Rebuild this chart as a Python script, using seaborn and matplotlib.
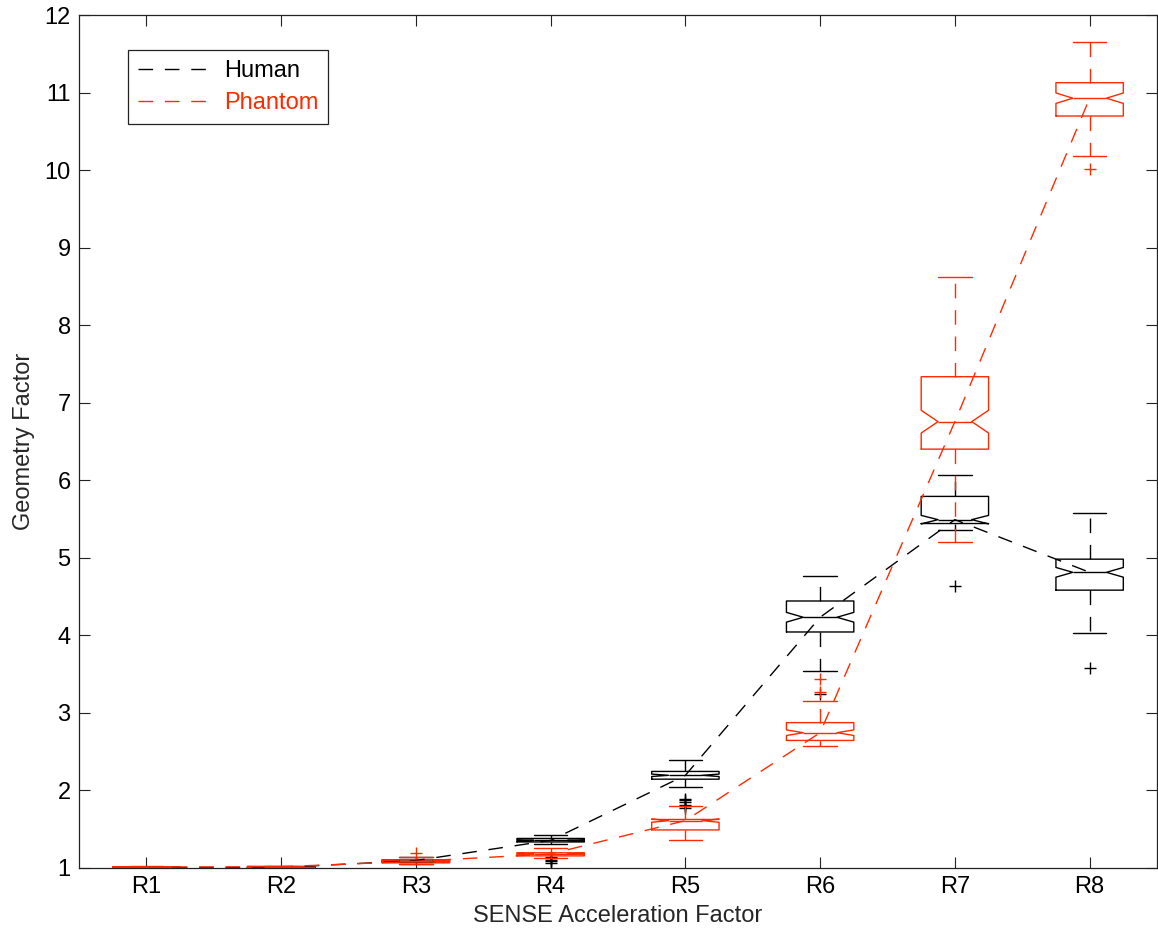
import numpy as np
import pandas as pd
import matplotlib
matplotlib.use("Agg")
import matplotlib.pyplot as plt
import seaborn as sns
from matplotlib.lines import Line2D

# ---------------- data ----------------
categories = ["R1", "R2", "R3", "R4", "R5", "R6", "R7", "R8"]
n_samples = 100  # samples per box (sets notch size: med +/- 1.57*IQR/sqrt(n))

human_whislo = [1.000, 1.000, 1.040, 1.300, 2.035, 3.530, 5.350, 4.030]
human_q1     = [1.000, 1.000, 1.070, 1.330, 2.140, 4.040, 5.440, 4.580]
human_med    = [1.000, 1.000, 1.090, 1.350, 2.190, 4.230, 5.490, 4.810]
human_q3     = [1.000, 1.005, 1.100, 1.375, 2.240, 4.440, 5.790, 4.980]
human_whishi = [1.000, 1.010, 1.130, 1.420, 2.390, 4.760, 6.060, 5.580]
human_fliers = [[], [], [], [1.06, 1.08, 1.10, 1.12, 1.14],
                [1.77, 1.79, 1.81, 1.85, 1.87, 1.89],
                [3.24], [4.63], [3.57]]

phantom_whislo = [1.000, 1.000, 1.040, 1.120, 1.355, 2.570, 5.200, 10.180]
phantom_q1     = [1.000, 1.005, 1.060, 1.150, 1.485, 2.640, 6.400, 10.700]
phantom_med    = [1.005, 1.010, 1.080, 1.175, 1.605, 2.740, 6.755, 10.930]
phantom_q3     = [1.010, 1.015, 1.100, 1.190, 1.620, 2.870, 7.335, 11.130]
phantom_whishi = [1.020, 1.025, 1.140, 1.250, 1.790, 3.150, 8.620, 11.650]
phantom_fliers = [[], [], [1.19], [], [], [3.26, 3.43], [], [10.01]]

y_ticks = list(range(1, 13))

BLACK = "#000000"
RED = "#ff2a00"
FS = 17

# ---------------- style ----------------
sns.set_theme(style="white")
plt.rcParams["font.family"] = ["Liberation Sans", "DejaVu Sans"]


def make_stats(lo, q1, med, q3, hi, fliers, n):
    out = []
    for i in range(len(med)):
        iqr = q3[i] - q1[i]
        half = 1.57 * iqr / np.sqrt(n)
        out.append(dict(whislo=lo[i], q1=q1[i], med=med[i], q3=q3[i],
                        whishi=hi[i], fliers=np.asarray(fliers[i], float),
                        cilo=med[i] - half, cihi=med[i] + half,
                        mean=med[i], iqr=iqr))
    return out


fig = plt.figure(figsize=(11.58, 9.33), dpi=100)
ax = fig.add_axes([79 / 1158, 65.5 / 933, 1078 / 1158, 852.2 / 933])

series = [
    ("Human", BLACK, human_whislo, human_q1, human_med, human_q3, human_whishi, human_fliers),
    ("Phantom", RED, phantom_whislo, phantom_q1, phantom_med, phantom_q3, phantom_whishi, phantom_fliers),
]

dash = (0, (10.5, 8.5))
for name, col, lo, q1, med, q3, hi, fl in series:
    df = pd.DataFrame({"factor": categories, "gf": med})
    stats = make_stats(lo, q1, med, q3, hi, fl, n_samples)
    sns.boxplot(data=df, x="factor", y="gf", order=categories, color=col,
                fill=False, width=0.5, linewidth=1.0, notch=True,
                whiskerprops=dict(linestyle=dash),
                flierprops=dict(marker="+", markersize=9, markeredgewidth=1.0,
                                markeredgecolor=col),
                bxpstats=stats, ax=ax)

# dashed lines joining the medians
for name, col, lo, q1, med, q3, hi, fl in series:
    sns.lineplot(x=np.arange(len(categories)), y=med, color=col, linewidth=1.0,
                 linestyle=dash, sort=False, estimator=None, ax=ax)

ax.set_xlim(-0.5, len(categories) - 0.5)
ax.set_ylim(1, 12)
ax.set_yticks(y_ticks)
ax.set_yticklabels([str(v) for v in y_ticks])
ax.set_xticks(range(len(categories)))
ax.set_xticklabels(categories)
ax.set_xlabel("SENSE Acceleration Factor", fontsize=FS, labelpad=5)
ax.set_ylabel("Geometry Factor", fontsize=FS, labelpad=7)

ax.tick_params(axis="both", which="major", direction="in", length=8, width=0.8,
               colors="#222222", labelcolor="black", labelsize=FS,
               top=True, right=True, bottom=True, left=True, pad=6)
for sp in ax.spines.values():
    sp.set_visible(True)
    sp.set_color("#222222")
    sp.set_linewidth(0.9)
ax.grid(False)

handles = [Line2D([], [], color=BLACK, lw=1.0, linestyle=dash),
           Line2D([], [], color=RED, lw=1.0, linestyle=dash)]
leg = ax.legend(handles, ["Human", "Phantom"], loc="upper left",
                bbox_to_anchor=(0.0454, 0.959), borderaxespad=0,
                fontsize=FS, handlelength=3.2, handletextpad=0.45,
                labelspacing=0.42, borderpad=0.42, fancybox=False,
                framealpha=1, edgecolor="#222222")
leg.get_frame().set_linewidth(0.9)
for txt, col in zip(leg.get_texts(), [BLACK, RED]):
    txt.set_color(col)

fig.savefig("out.png", dpi=100)
